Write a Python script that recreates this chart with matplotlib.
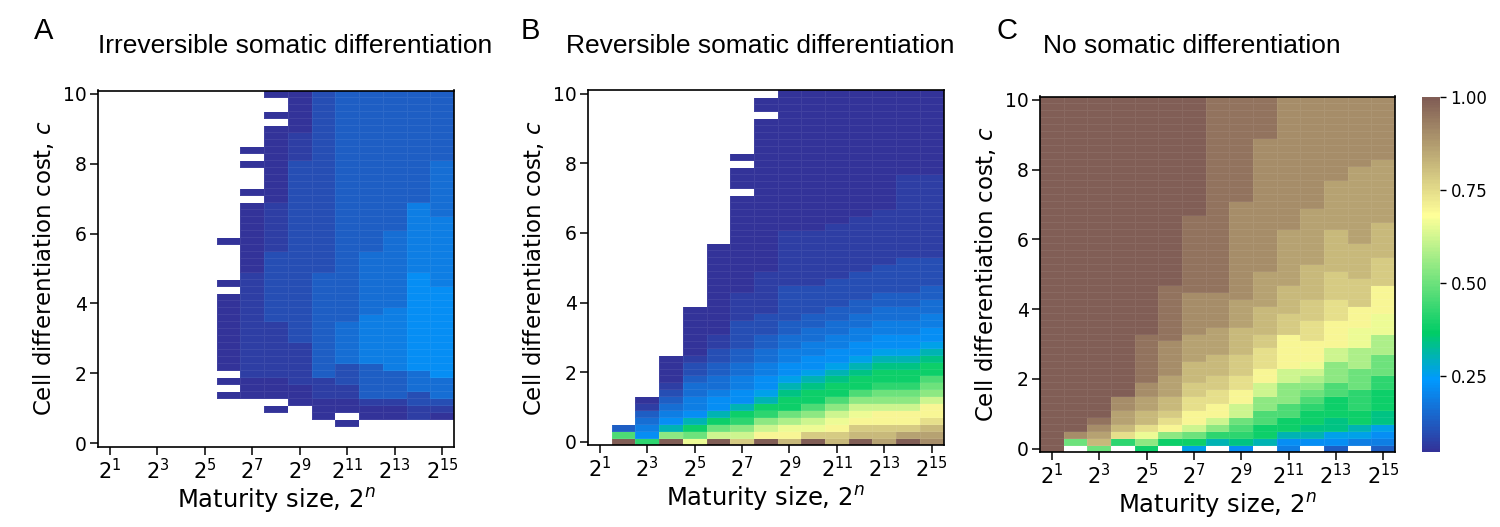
import numpy as np
import matplotlib.pyplot as plt
from matplotlib.colors import LinearSegmentedColormap, Normalize

# value scale used by the column strings below; '.' means no data (white)
LEVEL_KEYS = "abcdefghijklmnopqrstuvwxyz"
LEVEL_VALUES = [0.05, 0.07, 0.10, 0.13, 0.16, 0.19, 0.22, 0.26, 0.30, 0.34,
                0.38, 0.42, 0.46, 0.50, 0.54, 0.58, 0.62, 0.66, 0.70, 0.74,
                0.78, 0.82, 0.86, 0.90, 0.95, 1.00]

maturity_n = list(range(1, 16))            # columns, maturity size 2^n
cost_c = np.linspace(0, 10, 51)            # rows, differentiation cost c
tick_n = [1, 3, 5, 7, 9, 11, 13, 15]
cost_ticks = [0, 2, 4, 6, 8, 10]
cbar_ticks = [0.25, 0.50, 0.75, 1.00]

# one run-length string per column (n = 1..15), rows from c = 0 upwards
irreversible_cols = [
    ".51", ".51", ".51", ".51", ".51",
    ".7 a1 .1 a1 .1 a11 .1 a1 .5 a1 .21",
    ".7 a3 b15 a10 .1 a1 .3 a1 .1 a1 .8",
    ".5 a1 .1 a3 b8 c10 b7 a11 .1 a1 .2 a1",
    ".6 a3 b6 c26 b4 a6",
    ".4 a3 b3 d15 c26",
    ".3 a1 .1 a2 b2 c3 e6 d33",
    ".4 a2 b1 d5 f7 e9 d23",
    ".4 a2 b1 d4 f9 e11 d20",
    ".4 b2 c2 e3 g14 f10 d16",
    ".4 a1 b1 c1 e3 g13 f10 e8 d10",
]

reversible_cols = [
    ".51",
    "z1 m1 d1 .48",
    "l1 g1 f1 e1 d1 b1 a1 .44",
    "z1 o1 i1 g1 f1 e1 d1 c1 b1 a4 .38",
    "r1 n1 k1 i1 g1 f2 e2 d1 c2 b1 a7 .31",
    "z1 q1 n1 k1 i1 g2 f1 e2 d2 c2 b2 a13 .22",
    "u1 q1 o1 l1 k1 i1 g2 f2 e2 d2 c4 b4 a14 .1 a3 .1 a1 .9",
    "z1 s1 q1 o1 l1 k1 i1 h1 g2 f2 e2 d2 c3 b6 a22 .1 a2 .1",
    "v1 s1 r1 p1 n1 k2 j1 i1 h1 g2 f2 e2 d2 c5 b8 a20",
    "z1 u1 r1 q1 o1 m1 k2 j1 i1 h1 g2 f2 e2 d2 c4 b8 a20",
    "v1 u1 s1 r1 q1 o1 m1 k2 j1 i1 h1 g2 f2 e2 d2 c4 b8 a19",
    "z1 v1 u1 s1 r1 q1 o1 m1 k2 j1 i1 h1 g2 f2 e2 d2 c4 b8 a18",
    "w1 v1 u1 s2 q1 o1 n1 l1 k2 j1 i1 h1 g2 f2 e2 d2 c4 b8 a17",
    "z1 w1 u1 s2 q1 o1 n1 l1 k2 j1 i1 h1 g2 f2 e2 d2 c5 b12 a12",
    "x1 w1 v1 t1 s2 q1 o1 n1 m1 k2 j1 i1 h1 g2 f2 e2 d2 c4 b12 a12",
]

no_diff_cols = [
    "z51",
    ".1 n1 x1 z48",
    "n1 v1 w1 x1 y1 z46",
    ".1 l1 t1 v1 w2 x2 z43",
    "k1 o1 r1 t1 v2 w2 x2 y7 z34",
    ".1 k1 o1 s1 t1 u1 v2 w3 x5 y8 z27",
    "h1 k1 n1 q1 s2 t2 u2 v3 w4 x6 y11 z17",
    ".1 i1 l1 o1 q1 s2 t2 u2 v3 w4 x5 y28",
    "g1 j1 l1 m1 n1 q2 s2 t2 u3 v4 w4 x14 y15",
    ".1 i1 k2 m2 o2 q2 s2 t3 u2 v4 w5 x19 y6",
    "f1 g1 i1 k2 m2 o3 q2 s5 u3 v4 w8 x19",
    ".1 g1 i1 j1 k2 l1 m1 n1 o1 p1 q1 r1 s3 t3 u3 v5 w8 x16",
    "d1 g1 h1 j2 k3 m2 o3 q2 s4 t3 u4 v6 w7 x12",
    ".1 f1 h1 i1 k2 l3 n3 p3 r3 s3 u4 v5 w11 x10",
    "d1 f1 g1 h1 j2 k3 l2 n3 p3 r3 s4 u4 v5 w9 x9",
]


def decode(col):
    out = []
    for tok in col.split():
        ch, cnt = tok[0], int(tok[1:])
        v = np.nan if ch == "." else LEVEL_VALUES[LEVEL_KEYS.index(ch)]
        out += [v] * cnt
    out = (out + [np.nan] * len(cost_c))[:len(cost_c)]
    return out


# terrain colormap, blue -> green -> yellow -> brown part only
cmap = LinearSegmentedColormap.from_list(
    "terrain_part", plt.get_cmap("terrain")(np.linspace(0, 0.75, 256)))
cmap.set_bad("white")
norm = Normalize(vmin=0.045, vmax=1.0)

x_edges = np.arange(0.5, 16.0, 1.0)
y_edges = np.linspace(-0.1, 10.1, 52)

W, H = 1500, 527
fig = plt.figure(figsize=(15, 5.27), dpi=100)

panels = [
    ("A", "Irreversible somatic differentiation", irreversible_cols,
     (98, 90.5, 454, 446.5), 295, 34),
    ("B", "Reversible somatic differentiation", reversible_cols,
     (588, 90.5, 943.5, 445), 760, 521),
    ("C", "No somatic differentiation", no_diff_cols,
     (1040, 96.5, 1395, 452), 1192, 996),
]

title_font = ["Liberation Sans", "DejaVu Sans"]

for letter, title, cols, (x0, y0, x1, y1), tx, lx in panels:
    ax = fig.add_axes([x0 / W, 1 - y1 / H, (x1 - x0) / W, (y1 - y0) / H])
    grid = np.array([decode(c) for c in cols]).T
    mesh = ax.pcolormesh(x_edges, y_edges, np.ma.masked_invalid(grid),
                         cmap=cmap, norm=norm,
                         edgecolors=(1, 1, 1, 0.07), linewidth=0.5)
    ax.set_xlim(0.5, 15.5)
    ax.set_ylim(-0.1, 10.1)
    ax.set_xticks(tick_n)
    ax.set_xticklabels([f"$2^{{{n}}}$" for n in tick_n])
    ax.set_yticks(cost_ticks)
    ax.tick_params(length=6, width=1.1, pad=2)
    ax.tick_params(axis="x", labelsize=15)
    ax.tick_params(axis="y", labelsize=13.5)
    for s in ax.spines.values():
        s.set_linewidth(1.2)
    ax.set_xlabel("Maturity size, $2^n$", fontsize=17.5, labelpad=2)
    ax.set_ylabel("Cell differentiation cost, $c$", fontsize=16.5, labelpad=5)

    fig.text(tx / W, 1 - 53 / H, title, fontsize=19, family=title_font,
             ha="center", va="baseline")
    fig.text(lx / W, 1 - 39 / H, letter, fontsize=21, family=title_font,
             ha="left", va="baseline")

cax = fig.add_axes([1422 / W, 1 - 452 / H, 18 / W, 355 / H])
cb = fig.colorbar(mesh, cax=cax)
cb.set_ticks(cbar_ticks)
cb.ax.set_yticklabels([f"{t:.2f}" for t in cbar_ticks])
cb.ax.tick_params(labelsize=12, length=4, width=1)
cb.outline.set_visible(False)

fig.savefig("out.png", dpi=100)
